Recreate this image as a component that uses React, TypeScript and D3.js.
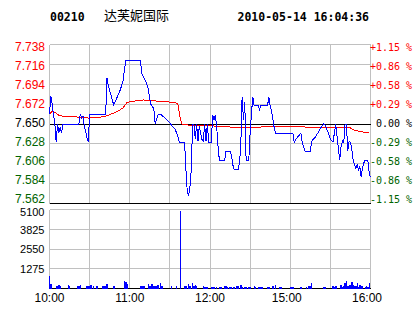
import React from 'react';
import * as d3 from 'd3';

const stockCode = '00210';
const stockName = '达芙妮国际';
const stamp = '2010-05-14 16:04:36';
const prevClose = 7.65;

const priceTicks = [7.738, 7.716, 7.694, 7.672, 7.65, 7.628, 7.606, 7.584, 7.562];
const pctLabels = ['+1.15 %', '+0.86 %', '+0.58 %', '+0.29 %', ' 0.00 %', '-0.29 %', '-0.58 %', '-0.86 %', '-1.15 %'];
const volTicks = [5100, 3825, 2550, 1275];
const timeLabels = ['10:00', '11:00', '12:00', '15:00', '16:00'];
const timeLabelMinutes = [0, 60, 120, 180, 240];
const gridMinutes = [0, 30, 60, 90, 120, 150, 180, 210, 240];

// minute index from open (0 = 10:00, 150 = 12:30 / 14:30, 240 = 16:00)
const priceMinutes = [0, 1, 2, 3, 4, 5, 6, 7, 8, 9, 10, 22, 23, 24, 25, 26, 27, 28, 29, 30, 42, 43, 44, 46, 48, 53, 55, 56, 57, 68, 69, 70, 72, 74, 75, 76, 78, 79, 81, 83, 86, 89, 91, 94, 96, 97, 101, 102, 103, 104, 105, 106, 107, 108, 109, 110, 111, 112, 113, 114, 115, 116, 117, 118, 119, 121, 122, 123, 124, 125, 126, 127, 131, 132, 135, 136, 137, 138, 141, 142, 143, 144, 145, 146, 147, 149, 150, 151, 152, 153, 156, 157, 158, 163, 164, 165, 166, 167, 168, 169, 182, 183, 184, 187, 188, 189, 191, 195, 196, 199, 203, 205, 206, 208, 210, 212, 213, 214, 215, 216, 217, 218, 219, 220, 221, 222, 223, 224, 225, 226, 227, 228, 229, 230, 231, 232, 233, 234, 235, 236, 238, 239, 240];
const priceValues = [7.661, 7.681, 7.672, 7.66, 7.65, 7.63, 7.65, 7.64, 7.647, 7.64, 7.65, 7.65, 7.661, 7.657, 7.659, 7.648, 7.642, 7.635, 7.63, 7.661, 7.661, 7.701, 7.692, 7.682, 7.671, 7.688, 7.698, 7.71, 7.72, 7.72, 7.706, 7.703, 7.697, 7.688, 7.677, 7.671, 7.667, 7.65, 7.66, 7.661, 7.657, 7.653, 7.649, 7.644, 7.636, 7.63, 7.63, 7.6, 7.575, 7.57, 7.58, 7.6, 7.65, 7.65, 7.633, 7.65, 7.631, 7.648, 7.64, 7.633, 7.631, 7.65, 7.631, 7.65, 7.63, 7.63, 7.66, 7.654, 7.66, 7.647, 7.625, 7.61, 7.61, 7.62, 7.62, 7.616, 7.605, 7.6, 7.6, 7.607, 7.625, 7.68, 7.655, 7.674, 7.61, 7.61, 7.64, 7.662, 7.68, 7.67, 7.67, 7.666, 7.67, 7.67, 7.68, 7.67, 7.664, 7.655, 7.646, 7.64, 7.64, 7.629, 7.633, 7.638, 7.64, 7.629, 7.62, 7.62, 7.631, 7.636, 7.646, 7.65, 7.649, 7.642, 7.633, 7.63, 7.64, 7.65, 7.636, 7.623, 7.61, 7.625, 7.631, 7.629, 7.65, 7.65, 7.62, 7.631, 7.63, 7.622, 7.61, 7.605, 7.601, 7.605, 7.599, 7.603, 7.591, 7.601, 7.607, 7.61, 7.61, 7.596, 7.591];

const avgMinutes = [0, 2, 5, 7, 12, 22, 29, 41, 46, 51, 55, 58, 62, 70, 76, 84, 94, 96, 97, 98, 99, 103, 105, 119, 130, 142, 157, 158, 191, 193, 225, 227, 232, 239];
const avgValues = [7.661, 7.664, 7.662, 7.6595, 7.658, 7.6577, 7.6566, 7.658, 7.661, 7.664, 7.668, 7.674, 7.675, 7.6766, 7.676, 7.6747, 7.674, 7.672, 7.663, 7.6548, 7.65, 7.649, 7.6485, 7.648, 7.6474, 7.6456, 7.6456, 7.6467, 7.6467, 7.6456, 7.6456, 7.6437, 7.6418, 7.64];

const volMinutes = [0, 1, 5, 6, 7, 8, 14, 15, 21, 22, 23, 28, 29, 30, 31, 33, 35, 36, 40, 41, 42, 43, 48, 56, 57, 58, 68, 69, 70, 71, 74, 75, 76, 77, 78, 79, 80, 81, 83, 84, 91, 95, 98, 101, 102, 104, 105, 107, 108, 109, 110, 115, 116, 117, 118, 121, 122, 123, 125, 127, 128, 131, 132, 133, 135, 136, 138, 140, 141, 143, 144, 146, 147, 149, 150, 153, 154, 156, 157, 158, 159, 163, 164, 167, 169, 172, 173, 180, 181, 182, 188, 192, 194, 195, 196, 205, 206, 212, 213, 214, 218, 219, 220, 221, 222, 223, 224, 225, 226, 227, 228, 229, 230, 231, 232, 233, 234, 236, 237, 238, 239];
const volValues = [820, 280, 150, 150, 215, 150, 215, 130, 150, 170, 215, 150, 150, 150, 215, 150, 150, 150, 150, 150, 150, 280, 150, 474, 388, 280, 150, 150, 150, 150, 280, 150, 280, 280, 170, 190, 170, 215, 323, 170, 150, 150, 5000, 150, 150, 280, 150, 323, 150, 215, 150, 150, 108, 108, 100, 108, 108, 108, 108, 108, 108, 172, 172, 108, 108, 108, 108, 140, 140, 215, 108, 108, 108, 108, 108, 172, 108, 108, 108, 108, 108, 108, 108, 172, 237, 108, 108, 108, 108, 108, 108, 108, 172, 172, 366, 108, 108, 172, 108, 172, 215, 108, 172, 323, 474, 172, 258, 258, 388, 258, 172, 172, 366, 108, 258, 193, 172, 108, 172, 108, 366];

const RED = '#FF0000';
const GREEN = '#006400';
const BLUE = '#0000FF';
const GRID = '#C0C0C0';

export default function App() {
  const x = d3.scaleLinear().domain([0, 240]).range([49.5, 370.5]);
  const yP = d3.scaleLinear().domain([7.562, 7.738]).range([203.5, 44.5]);
  const yLabel = d3.scaleLinear().domain([7.562, 7.738]).range([199.6, 47.3]);
  const yV = d3.scaleLinear().domain([0, 5100]).range([288.5, 209.5]);

  const priceLine = d3
    .line<number>()
    .x((_, i) => x(priceMinutes[i]))
    .y((d) => yP(d));
  const avgLine = d3
    .line<number>()
    .x((_, i) => x(avgMinutes[i]))
    .y((d) => yP(d));

  const labelColor = (v: number) =>
    Math.abs(v - prevClose) < 1e-9 ? '#000' : v > prevClose ? RED : GREEN;

  const sans = 'Liberation Sans, Arial, sans-serif';
  const mono = 'DejaVu Sans Mono, monospace';

  return (
    <svg
      width={414}
      height={314}
      style={{ position: 'absolute', left: 0, top: 0, background: '#fff' }}
    >
      <rect x={0} y={0} width={414} height={314} fill="#fff" />
      {/* title */}
      <text x={50} y={21} fontFamily={mono} fontWeight="bold" fontSize={11.5} fill="#000">
        {stockCode}
      </text>
      <text x={104} y={19.5} fontFamily="Noto Sans CJK SC" fontSize={13} fill="#000">
        {stockName}
      </text>
      <text x={237.5} y={21} fontFamily={mono} fontWeight="bold" fontSize={11.5} fill="#000">
        {stamp}
      </text>

      <g shapeRendering="crispEdges">
        {/* price grid */}
        {priceTicks.map((t) => (
          <line key={'ph' + t} x1={x(0)} x2={x(240)} y1={yP(t)} y2={yP(t)} stroke={GRID} />
        ))}
        {gridMinutes.map((m) => (
          <line key={'pv' + m} x1={x(m)} x2={x(m)} y1={yP(7.738)} y2={yP(7.562)} stroke={GRID} />
        ))}
        {/* volume grid */}
        {[0, ...volTicks].map((t) => (
          <line key={'vh' + t} x1={x(0)} x2={x(240)} y1={yV(t)} y2={yV(t)} stroke={GRID} />
        ))}
        {gridMinutes.map((m) => (
          <line key={'vv' + m} x1={x(m)} x2={x(m)} y1={yV(5100)} y2={yV(0)} stroke={GRID} />
        ))}
        {/* black reference lines */}
        <line x1={x(0)} x2={x(240)} y1={yP(prevClose)} y2={yP(prevClose)} stroke="#000" />
        <line x1={x(0)} x2={x(240)} y1={yP(7.562)} y2={yP(7.562)} stroke="#000" />
        <line x1={x(0)} x2={x(240)} y1={yV(0)} y2={yV(0)} stroke="#000" />

        {/* volume bars */}
        {volValues.map((v, i) => (
          <rect
            key={'b' + i}
            x={x(volMinutes[i]) - 0.6}
            width={1.4}
            y={yV(v)}
            height={yV(0) - yV(v)}
            fill={BLUE}
          />
        ))}

        <path d={avgLine(avgValues) || ''} fill="none" stroke={RED} strokeWidth={1} />
        <path d={priceLine(priceValues) || ''} fill="none" stroke={BLUE} strokeWidth={1} />
      </g>

      {/* left price labels */}
      {priceTicks.map((t) => (
        <text
          key={'pl' + t}
          x={45}
          y={yLabel(t) + 3.8}
          textAnchor="end"
          fontFamily={sans}
          fontSize={12}
          fill={labelColor(t)}
        >
          {t.toFixed(3)}
        </text>
      ))}
      {/* right pct labels */}
      {priceTicks.map((t, i) => (
        <text
          key={'pr' + t}
          x={370}
          y={yLabel(t) + 3.8}
          fontFamily={mono}
          fontSize={10}
          fill={labelColor(t)}
          style={{ whiteSpace: 'pre' }}
        >
          {pctLabels[i]}
        </text>
      ))}
      {/* volume labels */}
      {volTicks.map((t) => (
        <text
          key={'vl' + t}
          x={44.5}
          y={Math.max(yV(t) + 4.3, 216)}
          textAnchor="end"
          fontFamily={sans}
          fontSize={11}
          fill="#000"
        >
          {t}
        </text>
      ))}
      {/* time labels */}
      {timeLabels.map((l, i) => (
        <text
          key={'tl' + l}
          x={x(timeLabelMinutes[i]) - (timeLabelMinutes[i] >= 180 ? 3.5 : 0)}
          y={302}
          textAnchor="middle"
          fontFamily={sans}
          fontSize={12}
          fill="#000"
        >
          {l}
        </text>
      ))}
    </svg>
  );
}
